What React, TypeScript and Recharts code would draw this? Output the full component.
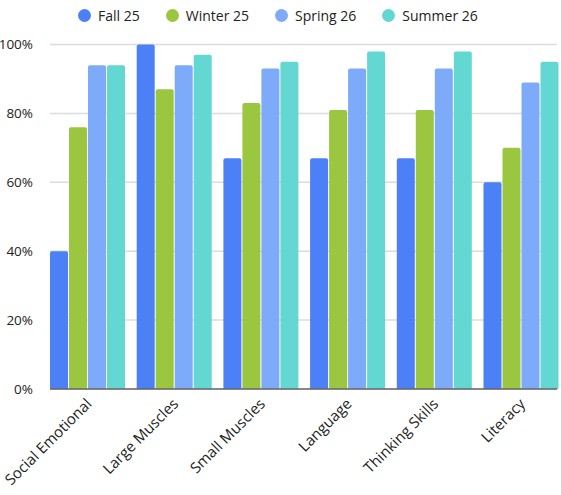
import React from "react";
import {
  BarChart,
  Bar,
  XAxis,
  YAxis,
  CartesianGrid,
} from "recharts";

const categories = [
  "Social Emotional",
  "Large Muscles",
  "Small Muscles",
  "Language",
  "Thinking Skills",
  "Literacy",
];
const fall25 = [40, 100, 67, 67, 67, 60];
const winter25 = [76, 87, 83, 81, 81, 70];
const spring26 = [94, 94, 93, 93, 93, 89];
const summer26 = [94, 97, 95, 98, 98, 95];
const yTicks = [0, 20, 40, 60, 80, 100];

const series = [
  { key: "fall", name: "Fall 25", color: "#4C80F7" },
  { key: "winter", name: "Winter 25", color: "#9AC73F" },
  { key: "spring", name: "Spring 26", color: "#7DAAF9" },
  { key: "summer", name: "Summer 26", color: "#63D7D1" },
];

const data = categories.map((name, i) => ({
  name,
  fall: fall25[i],
  winter: winter25[i],
  spring: spring26[i],
  summer: summer26[i],
}));

const FONT = "'Open Sans', 'Noto Sans', sans-serif";

// rotated category label, anchored at its end
function AngledTick({ x, y, payload }: any) {
  return (
    <g transform={`translate(${x + 3},${y + 5})`}>
      <text
        x={0}
        y={0}
        dy={4}
        textAnchor="end"
        fill="#222"
        fontSize={15}
        fontFamily={FONT}
        transform="rotate(-45)"
      >
        {payload.value}
      </text>
    </g>
  );
}

function LegendRow() {
  return (
    <div
      style={{
        position: "absolute",
        top: 6,
        left: 78,
        display: "flex",
        alignItems: "center",
        fontFamily: FONT,
        fontSize: 14,
        color: "#222",
      }}
    >
      {series.map((s) => (
        <div
          key={s.key}
          style={{ display: "flex", alignItems: "center", marginRight: 26 }}
        >
          <span
            style={{
              width: 13,
              height: 13,
              borderRadius: "50%",
              background: s.color,
              marginRight: 7,
              display: "inline-block",
            }}
          />
          <span>{s.name}</span>
        </div>
      ))}
    </div>
  );
}

export default function App() {
  return (
    <div
      style={{
        position: "absolute",
        left: 0,
        top: 0,
        width: 561,
        height: 495,
        background: "#fff",
      }}
    >
      <LegendRow />
      <BarChart
        width={561}
        height={495}
        data={data}
        margin={{ top: 44.5, right: 4, left: 0, bottom: 0 }}
        barCategoryGap={6.6}
        barGap={1}
      >
        <CartesianGrid vertical={false} stroke="#dcdcdc" strokeWidth={1.5} />
        <XAxis
          dataKey="name"
          interval={0}
          tickLine={false}
          axisLine={{ stroke: "#666", strokeWidth: 1.5 }}
          tick={<AngledTick />}
          height={106}
          padding={{ left: -6.6, right: -6.6 }}
        />
        <YAxis
          domain={[0, 100]}
          ticks={yTicks}
          tickFormatter={(v: number) => `${v}%`}
          axisLine={false}
          tickLine={false}
          width={50}
          tickMargin={11}
          tick={{ fill: "#222", fontSize: 13.5, fontFamily: FONT }}
        />
        {series.map((s) => (
          <Bar
            key={s.key}
            dataKey={s.key}
            name={s.name}
            fill={s.color}
            radius={[2, 2, 0, 0]}
            isAnimationActive={false}
          />
        ))}
      </BarChart>
    </div>
  );
}
